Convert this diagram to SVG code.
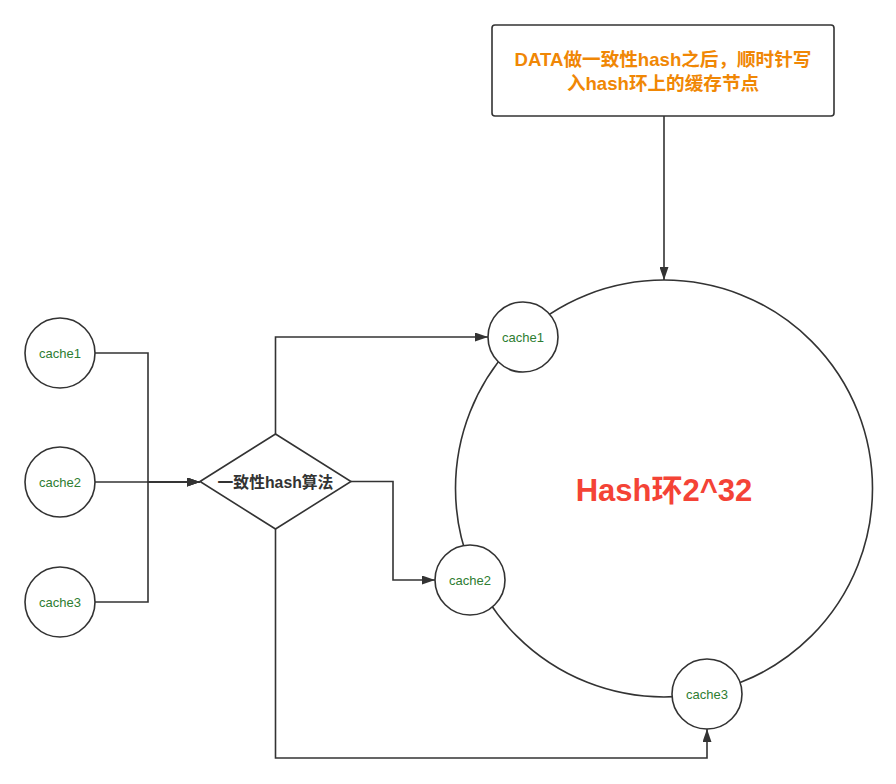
<svg xmlns="http://www.w3.org/2000/svg" width="896" height="784" viewBox="0 0 896 784">
<style>
.ln{fill:none;stroke:#333333;stroke-width:1.6}
.nd{fill:#ffffff;stroke:#333333;stroke-width:1.6}
.cl{font-family:"Liberation Sans","Noto Sans CJK SC",sans-serif;font-size:13px;fill:#2E7D32;text-anchor:middle;dominant-baseline:central}
.t{font-family:"Liberation Sans","Noto Sans CJK SC",sans-serif;font-weight:bold;text-anchor:middle;dominant-baseline:central}
</style>
<defs>
<marker id="ah" viewBox="0 0 13 9" refX="13" refY="4.5" markerWidth="13" markerHeight="9" markerUnits="userSpaceOnUse" orient="auto">
<path d="M0,0 L13,4.5 L0,9 z" fill="#333333"/>
</marker>
</defs>
<rect width="896" height="784" fill="#ffffff"/>
<g id="ring">
<circle class="ln" cx="664" cy="488.5" r="208.5"/>
<text class="t" x="664" y="490" font-size="31" fill="#F44336">Hash环2^32</text>
</g>
<g id="connectors">
<path class="ln" d="M95,353 H148 V482 H200" marker-end="url(#ah)"/>
<path class="ln" d="M95,482 H200" marker-end="url(#ah)"/>
<path class="ln" d="M95,602 H148 V482 H200" marker-end="url(#ah)"/>
<path class="ln" d="M275.5,434 V337 H488" marker-end="url(#ah)"/>
<path class="ln" d="M351,481.5 H393 V580 H435" marker-end="url(#ah)"/>
<path class="ln" d="M275.5,529 V758 H707 V729" marker-end="url(#ah)"/>
<path class="ln" d="M664,116 V280" marker-end="url(#ah)"/>
</g>
<g id="data-box">
<rect class="nd" x="492" y="25" width="342" height="91" rx="3"/>
<text class="t" font-size="18.6" fill="#F08705"><tspan x="663" y="59">DATA做一致性hash之后，顺时针写</tspan><tspan x="663" y="83">入hash环上的缓存节点</tspan></text>
</g>
<g id="left-cache1"><circle class="nd" cx="60" cy="353" r="35"/><text class="cl" x="60" y="353">cache1</text></g>
<g id="left-cache2"><circle class="nd" cx="60" cy="482" r="35"/><text class="cl" x="60" y="482">cache2</text></g>
<g id="left-cache3"><circle class="nd" cx="60" cy="602" r="35"/><text class="cl" x="60" y="602">cache3</text></g>
<g id="hash-algo">
<path class="nd" d="M200,481.5 L275.5,434 L351,481.5 L275.5,529 Z"/>
<text class="t" x="275.5" y="482" font-size="15.8" fill="#333333">一致性hash算法</text>
</g>
<g id="ring-cache1"><circle class="nd" cx="523" cy="337" r="35"/><text class="cl" x="523" y="337">cache1</text></g>
<g id="ring-cache2"><circle class="nd" cx="470" cy="580" r="35"/><text class="cl" x="470" y="580">cache2</text></g>
<g id="ring-cache3"><circle class="nd" cx="707" cy="694" r="35"/><text class="cl" x="707" y="694">cache3</text></g>
</svg>
